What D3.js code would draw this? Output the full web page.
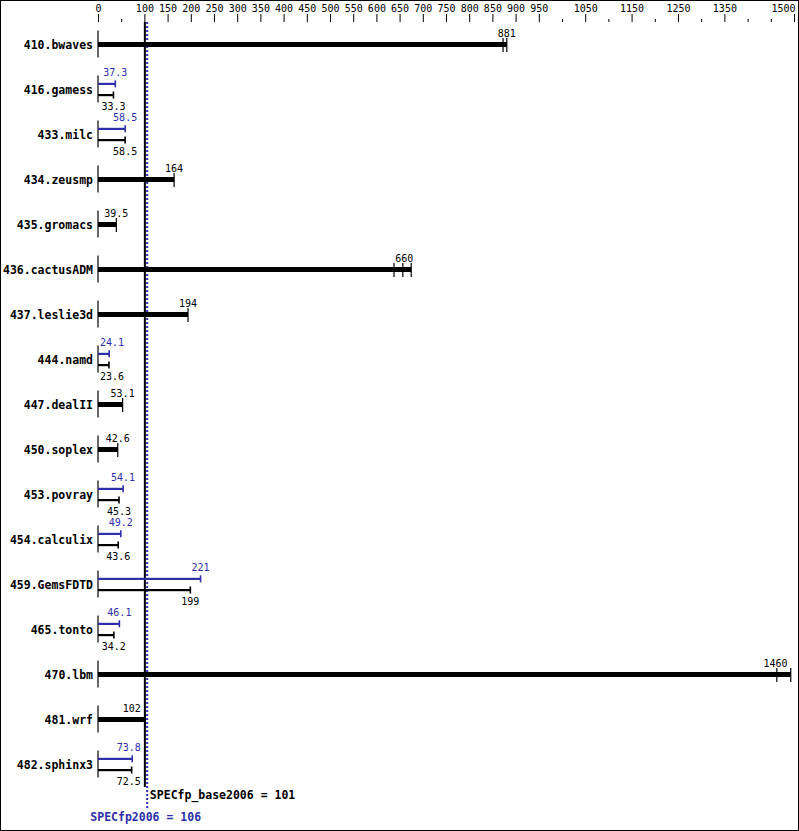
<!DOCTYPE html>
<html>
<head>
<meta charset="utf-8">
<script src="https://cdn.jsdelivr.net/npm/d3@7/dist/d3.min.js"></script>
<style>
  html, body { margin: 0; padding: 0; background: #fff; }
  svg { display: block; }
  text { font-family: "DejaVu Sans Mono", monospace; }
</style>
</head>
<body>
<svg id="chart" width="799" height="831"></svg>
<script>
// ---- data ----
const categories = ["410.bwaves","416.gamess","433.milc","434.zeusmp","435.gromacs","436.cactusADM",
  "437.leslie3d","444.namd","447.dealII","450.soplex","453.povray","454.calculix","459.GemsFDTD",
  "465.tonto","470.lbm","481.wrf","482.sphinx3"];
const baseValues = [881, 33.3, 58.5, 164, 39.5, 660, 194, 23.6, 53.1, 42.6, 45.3, 43.6, 199, 34.2, 1460, 102, 72.5];
const peakValues = [null, 37.3, 58.5, null, null, null, null, 24.1, null, null, 54.1, 49.2, 221, 46.1, null, null, 73.8];
// individual run marks where several are visible
const baseRuns = [[873, 881], null, null, null, null, [638, 657, 675], null, null, null, null,
  null, null, null, null, [1463, 1493], null, null];
const majorTicks = [0,100,150,200,250,300,350,400,450,500,550,600,650,700,750,800,850,900,950,1050,1150,1250,1350,1500];
const minorTicks = [50,1000,1100,1200,1300,1400,1450];
const baseMean = 101;
const peakMean = 106;
const baseMeanLabel = "SPECfp_base2006 = 101";
const peakMeanLabel = "SPECfp2006 = 106";

// ---- setup ----
const BLUE = "#2e2eaa";
const svg = d3.select("#chart");
const x = d3.scaleLinear().domain([0, 1500]).range([98, 794]);
const y = d3.scalePoint().domain(categories).range([44.5, 764.5]);
const axisY = 22;

svg.append("rect").attr("x", 0.5).attr("y", 0.5).attr("width", 798).attr("height", 830)
  .attr("fill", "#fff").attr("stroke", "#000");

// axes
const major = svg.append("g").attr("transform", `translate(0,${axisY})`)
  .call(d3.axisTop(x).tickValues(majorTicks).tickSize(8).tickFormat(d3.format("d")));
major.select(".domain").remove();
major.selectAll("text").attr("font-size", 10).attr("font-family", "DejaVu Sans Mono")
  .attr("y", -10.5).attr("dy", 0)
  .attr("x", d => { const cx = x(d); return Math.min(cx, 783) - cx; });
major.selectAll("line").attr("stroke", "#000");
const minor = svg.append("g").attr("transform", `translate(0,${axisY})`)
  .call(d3.axisTop(x).tickValues(minorTicks).tickSize(3).tickFormat(""));
minor.select(".domain").remove();
minor.selectAll("line").attr("stroke", "#000");

// mean lines
svg.append("line").attr("x1", x(baseMean)).attr("x2", x(baseMean)).attr("y1", axisY).attr("y2", 787)
  .attr("stroke", "#000").attr("stroke-width", 2);
svg.append("line").attr("x1", x(peakMean)).attr("x2", x(peakMean)).attr("y1", axisY).attr("y2", 808)
  .attr("stroke", BLUE).attr("stroke-width", 2).attr("stroke-dasharray", "2,2");

svg.append("text").attr("x", x(baseMean) + 5).attr("y", 799).attr("font-size", 11.5)
  .attr("font-weight", "bold").attr("fill", "#000").text(baseMeanLabel);
svg.append("text").attr("x", x(peakMean) - 1.5).attr("y", 821).attr("font-size", 11.5)
  .attr("font-weight", "bold").attr("fill", BLUE).attr("text-anchor", "middle").text(peakMeanLabel);

// label placement helper
function labelX(v, w) {
  let cx = x(v);
  let left = cx - w / 2, right = cx + w / 2;
  if (left < 100) { left = 100; right = left + w; }
  const mx = x(baseMean);
  if (right > mx - 4 && left < mx + 4) { right = mx - 4; left = right - w; }
  return left;
}
function addLabel(v, yy, color) {
  const t = svg.append("text").attr("y", yy).attr("font-size", 10).attr("fill", color)
    .attr("dominant-baseline", "central").text(String(v));
  const w = t.node().getComputedTextLength();
  t.attr("x", labelX(v, w));
}

const rows = svg.append("g");
categories.forEach((name, i) => {
  const cy = y(name);
  // name
  rows.append("text").attr("x", 93).attr("y", cy).attr("text-anchor", "end")
    .attr("dominant-baseline", "central").attr("font-size", 11.5).attr("font-weight", "bold")
    .attr("fill", "#000").text(name);
  // zero line segment
  rows.append("line").attr("x1", x(0)).attr("x2", x(0)).attr("y1", cy - 14).attr("y2", cy + 13)
    .attr("stroke", "#000").attr("stroke-width", 1.2);

  const b = baseValues[i], p = peakValues[i];
  if (p === null) {
    const runs = baseRuns[i] || [b];
    const end = d3.max(runs);
    rows.append("rect").attr("x", x(0)).attr("y", cy - 2.5).attr("width", x(end) - x(0)).attr("height", 5)
      .attr("fill", "#000");
    runs.forEach(r => {
      rows.append("line").attr("x1", x(r)).attr("x2", x(r)).attr("y1", cy - 6.5).attr("y2", cy + 7.5)
        .attr("stroke", "#000").attr("stroke-width", 1.2);
    });
    addLabel(b, cy - 11.5, "#000");
  } else {
    const py = cy - 5.7, by = cy + 5.5;
    rows.append("rect").attr("x", x(0)).attr("y", py - 1).attr("width", x(p) - x(0)).attr("height", 2.2)
      .attr("fill", BLUE);
    rows.append("line").attr("x1", x(p)).attr("x2", x(p)).attr("y1", py - 3.5).attr("y2", py + 3.5)
      .attr("stroke", BLUE).attr("stroke-width", 1.6);
    rows.append("rect").attr("x", x(0)).attr("y", by - 1).attr("width", x(b) - x(0)).attr("height", 2.2)
      .attr("fill", "#000");
    rows.append("line").attr("x1", x(b)).attr("x2", x(b)).attr("y1", by - 3.5).attr("y2", by + 3.5)
      .attr("stroke", "#000").attr("stroke-width", 1.6);
    addLabel(p, cy - 17, BLUE);
    addLabel(b, cy + 17, "#000");
  }
});
</script>
</body>
</html>
